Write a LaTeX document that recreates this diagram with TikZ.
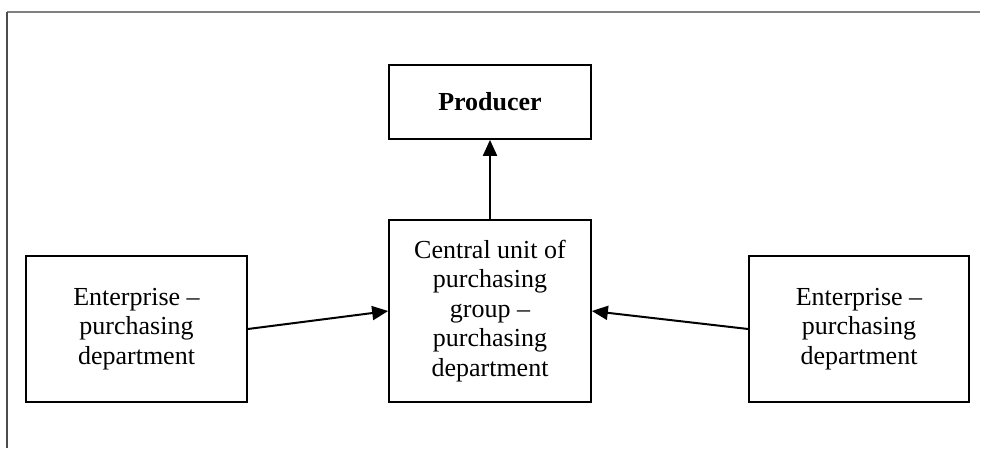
\documentclass[tikz,border=0pt]{standalone}
\usepackage{fontspec}
\setmainfont{Liberation Serif}
\usetikzlibrary{arrows.meta}
\begin{document}
\begin{tikzpicture}[x=1pt,y=-1pt,
  box/.style={draw=black, line width=1.7pt, rectangle, inner sep=0pt, align=center,
    font=\fontsize{26}{29.5}\selectfont},
  conn/.style={line width=2pt, -{Triangle[length=16pt,width=14pt]}}]
\useasboundingbox (0,0) rectangle (981,448);
\draw[gray, line width=1.6pt] (7,12) -- (980,12);
\draw[black!70, line width=1.6pt] (7,12) -- (7,448);
\node[box, minimum width=202pt, minimum height=74pt] (P) at (490,102) {\textbf{Producer}};
\node[box, minimum width=202pt, minimum height=182pt] (C) at (490,311) {Central unit of\\purchasing\\group –\\purchasing\\department};
\node[box, minimum width=221pt, minimum height=146pt] (L) at (136.5,329) {Enterprise –\\purchasing\\department};
\node[box, minimum width=220pt, minimum height=146pt] (R) at (859,329) {Enterprise –\\purchasing\\department};
\draw[conn] (C.north) -- (P.south);
\draw[conn] (L.east) -- (C.west);
\draw[conn] (R.west) -- (C.east);
\end{tikzpicture}
\end{document}
